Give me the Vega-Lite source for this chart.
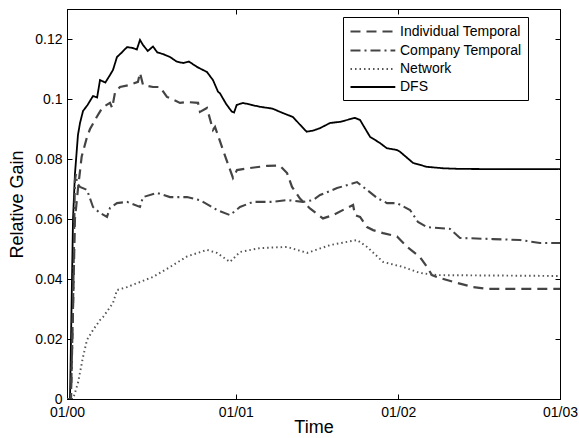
{
  "$schema": "https://vega.github.io/schema/vega-lite/v6.json",
  "autosize": "none",
  "width": 493,
  "height": 390,
  "padding": {"left": 67, "top": 9, "right": 19, "bottom": 39},
  "config": {
    "font": "Liberation Sans",
    "view": {"stroke": "black", "strokeWidth": 1},
    "axis": {"grid": false, "domainColor": "black", "tickColor": "black", "labelColor": "black", "titleColor": "black", "labelFont": "Liberation Sans", "titleFont": "Liberation Sans", "labelFontSize": 14, "titleFontSize": 18, "titleFontWeight": "normal", "tickSize": -5, "domainWidth": 1, "tickWidth": 1}
  },
  "datasets": {
    "gain": [
      {"t": 0, "gain": 0, "method": "DFS"},
      {"t": 0.22, "gain": 0, "method": "DFS"},
      {"t": 0.34, "gain": 0.033, "method": "DFS"},
      {"t": 0.44, "gain": 0.06, "method": "DFS"},
      {"t": 0.58, "gain": 0.075, "method": "DFS"},
      {"t": 0.8, "gain": 0.088, "method": "DFS"},
      {"t": 0.95, "gain": 0.092, "method": "DFS"},
      {"t": 1.17, "gain": 0.096, "method": "DFS"},
      {"t": 1.5, "gain": 0.098, "method": "DFS"},
      {"t": 1.9, "gain": 0.101, "method": "DFS"},
      {"t": 2.2, "gain": 0.1005, "method": "DFS"},
      {"t": 2.41, "gain": 0.1063, "method": "DFS"},
      {"t": 2.8, "gain": 0.1055, "method": "DFS"},
      {"t": 3.14, "gain": 0.108, "method": "DFS"},
      {"t": 3.36, "gain": 0.1097, "method": "DFS"},
      {"t": 3.65, "gain": 0.114, "method": "DFS"},
      {"t": 4.0, "gain": 0.1155, "method": "DFS"},
      {"t": 4.38, "gain": 0.1173, "method": "DFS"},
      {"t": 4.8, "gain": 0.117, "method": "DFS"},
      {"t": 5.1, "gain": 0.1165, "method": "DFS"},
      {"t": 5.33, "gain": 0.1197, "method": "DFS"},
      {"t": 5.55, "gain": 0.118, "method": "DFS"},
      {"t": 5.9, "gain": 0.116, "method": "DFS"},
      {"t": 6.28, "gain": 0.1175, "method": "DFS"},
      {"t": 6.6, "gain": 0.1155, "method": "DFS"},
      {"t": 7.0, "gain": 0.115, "method": "DFS"},
      {"t": 7.52, "gain": 0.114, "method": "DFS"},
      {"t": 8.0, "gain": 0.1125, "method": "DFS"},
      {"t": 8.47, "gain": 0.112, "method": "DFS"},
      {"t": 8.9, "gain": 0.1125, "method": "DFS"},
      {"t": 9.49, "gain": 0.1107, "method": "DFS"},
      {"t": 10.22, "gain": 0.109, "method": "DFS"},
      {"t": 10.66, "gain": 0.1063, "method": "DFS"},
      {"t": 11.03, "gain": 0.1024, "method": "DFS"},
      {"t": 11.17, "gain": 0.1019, "method": "DFS"},
      {"t": 11.6, "gain": 0.0985, "method": "DFS"},
      {"t": 12.03, "gain": 0.0958, "method": "DFS"},
      {"t": 12.2, "gain": 0.0955, "method": "DFS"},
      {"t": 12.39, "gain": 0.098, "method": "DFS"},
      {"t": 12.85, "gain": 0.0987, "method": "DFS"},
      {"t": 13.5, "gain": 0.098, "method": "DFS"},
      {"t": 14.09, "gain": 0.0974, "method": "DFS"},
      {"t": 15.0, "gain": 0.0968, "method": "DFS"},
      {"t": 15.77, "gain": 0.0953, "method": "DFS"},
      {"t": 16.5, "gain": 0.094, "method": "DFS"},
      {"t": 17.0, "gain": 0.0915, "method": "DFS"},
      {"t": 17.5, "gain": 0.0891, "method": "DFS"},
      {"t": 18.0, "gain": 0.0895, "method": "DFS"},
      {"t": 18.48, "gain": 0.0903, "method": "DFS"},
      {"t": 19.21, "gain": 0.092, "method": "DFS"},
      {"t": 19.94, "gain": 0.0924, "method": "DFS"},
      {"t": 21.03, "gain": 0.0937, "method": "DFS"},
      {"t": 21.4, "gain": 0.093, "method": "DFS"},
      {"t": 21.62, "gain": 0.0913, "method": "DFS"},
      {"t": 22.13, "gain": 0.0874, "method": "DFS"},
      {"t": 22.86, "gain": 0.0853, "method": "DFS"},
      {"t": 23.35, "gain": 0.0836, "method": "DFS"},
      {"t": 24.1, "gain": 0.083, "method": "DFS"},
      {"t": 24.32, "gain": 0.0824, "method": "DFS"},
      {"t": 25.27, "gain": 0.0787, "method": "DFS"},
      {"t": 26.27, "gain": 0.0774, "method": "DFS"},
      {"t": 27.5, "gain": 0.0769, "method": "DFS"},
      {"t": 28.7, "gain": 0.0767, "method": "DFS"},
      {"t": 32, "gain": 0.0766, "method": "DFS"},
      {"t": 36, "gain": 0.0766, "method": "DFS"},

      {"t": 0, "gain": 0, "method": "Individual Temporal"},
      {"t": 0.29, "gain": 0, "method": "Individual Temporal"},
      {"t": 0.44, "gain": 0.03, "method": "Individual Temporal"},
      {"t": 0.58, "gain": 0.06, "method": "Individual Temporal"},
      {"t": 0.8, "gain": 0.07, "method": "Individual Temporal"},
      {"t": 1.07, "gain": 0.0808, "method": "Individual Temporal"},
      {"t": 1.46, "gain": 0.0873, "method": "Individual Temporal"},
      {"t": 1.68, "gain": 0.09, "method": "Individual Temporal"},
      {"t": 2.17, "gain": 0.094, "method": "Individual Temporal"},
      {"t": 2.5, "gain": 0.0965, "method": "Individual Temporal"},
      {"t": 2.63, "gain": 0.0973, "method": "Individual Temporal"},
      {"t": 3.14, "gain": 0.0987, "method": "Individual Temporal"},
      {"t": 3.3, "gain": 0.097, "method": "Individual Temporal"},
      {"t": 3.51, "gain": 0.1023, "method": "Individual Temporal"},
      {"t": 3.87, "gain": 0.104, "method": "Individual Temporal"},
      {"t": 4.6, "gain": 0.1047, "method": "Individual Temporal"},
      {"t": 5.18, "gain": 0.1057, "method": "Individual Temporal"},
      {"t": 5.33, "gain": 0.1087, "method": "Individual Temporal"},
      {"t": 5.55, "gain": 0.1047, "method": "Individual Temporal"},
      {"t": 6.28, "gain": 0.104, "method": "Individual Temporal"},
      {"t": 6.79, "gain": 0.104, "method": "Individual Temporal"},
      {"t": 7.3, "gain": 0.1007, "method": "Individual Temporal"},
      {"t": 8.25, "gain": 0.0987, "method": "Individual Temporal"},
      {"t": 8.76, "gain": 0.099, "method": "Individual Temporal"},
      {"t": 9.57, "gain": 0.0987, "method": "Individual Temporal"},
      {"t": 9.71, "gain": 0.0957, "method": "Individual Temporal"},
      {"t": 10.22, "gain": 0.097, "method": "Individual Temporal"},
      {"t": 10.66, "gain": 0.0897, "method": "Individual Temporal"},
      {"t": 10.81, "gain": 0.0907, "method": "Individual Temporal"},
      {"t": 11.39, "gain": 0.083, "method": "Individual Temporal"},
      {"t": 12.12, "gain": 0.0737, "method": "Individual Temporal"},
      {"t": 12.41, "gain": 0.0763, "method": "Individual Temporal"},
      {"t": 13.36, "gain": 0.077, "method": "Individual Temporal"},
      {"t": 14.6, "gain": 0.0777, "method": "Individual Temporal"},
      {"t": 15.55, "gain": 0.0778, "method": "Individual Temporal"},
      {"t": 16.07, "gain": 0.0753, "method": "Individual Temporal"},
      {"t": 16.43, "gain": 0.0707, "method": "Individual Temporal"},
      {"t": 17.01, "gain": 0.0668, "method": "Individual Temporal"},
      {"t": 17.74, "gain": 0.0635, "method": "Individual Temporal"},
      {"t": 18.69, "gain": 0.0602, "method": "Individual Temporal"},
      {"t": 19.42, "gain": 0.0613, "method": "Individual Temporal"},
      {"t": 20.45, "gain": 0.0637, "method": "Individual Temporal"},
      {"t": 20.89, "gain": 0.0647, "method": "Individual Temporal"},
      {"t": 21.03, "gain": 0.0613, "method": "Individual Temporal"},
      {"t": 21.4, "gain": 0.0607, "method": "Individual Temporal"},
      {"t": 21.91, "gain": 0.0573, "method": "Individual Temporal"},
      {"t": 22.35, "gain": 0.0563, "method": "Individual Temporal"},
      {"t": 23.08, "gain": 0.0553, "method": "Individual Temporal"},
      {"t": 24.1, "gain": 0.0542, "method": "Individual Temporal"},
      {"t": 24.83, "gain": 0.0507, "method": "Individual Temporal"},
      {"t": 25.78, "gain": 0.0473, "method": "Individual Temporal"},
      {"t": 26.29, "gain": 0.044, "method": "Individual Temporal"},
      {"t": 26.65, "gain": 0.0413, "method": "Individual Temporal"},
      {"t": 27.24, "gain": 0.0403, "method": "Individual Temporal"},
      {"t": 28.48, "gain": 0.0387, "method": "Individual Temporal"},
      {"t": 29.65, "gain": 0.0373, "method": "Individual Temporal"},
      {"t": 30.67, "gain": 0.0367, "method": "Individual Temporal"},
      {"t": 36, "gain": 0.0367, "method": "Individual Temporal"},

      {"t": 0, "gain": 0, "method": "Company Temporal"},
      {"t": 0.29, "gain": 0, "method": "Company Temporal"},
      {"t": 0.44, "gain": 0.03, "method": "Company Temporal"},
      {"t": 0.58, "gain": 0.073, "method": "Company Temporal"},
      {"t": 0.66, "gain": 0.075, "method": "Company Temporal"},
      {"t": 0.73, "gain": 0.072, "method": "Company Temporal"},
      {"t": 0.95, "gain": 0.0707, "method": "Company Temporal"},
      {"t": 1.46, "gain": 0.0697, "method": "Company Temporal"},
      {"t": 1.9, "gain": 0.064, "method": "Company Temporal"},
      {"t": 2.41, "gain": 0.062, "method": "Company Temporal"},
      {"t": 2.92, "gain": 0.0607, "method": "Company Temporal"},
      {"t": 3.14, "gain": 0.0637, "method": "Company Temporal"},
      {"t": 3.65, "gain": 0.0653, "method": "Company Temporal"},
      {"t": 4.38, "gain": 0.0657, "method": "Company Temporal"},
      {"t": 5.33, "gain": 0.064, "method": "Company Temporal"},
      {"t": 5.55, "gain": 0.0673, "method": "Company Temporal"},
      {"t": 6.57, "gain": 0.0687, "method": "Company Temporal"},
      {"t": 7.52, "gain": 0.0673, "method": "Company Temporal"},
      {"t": 8.76, "gain": 0.0673, "method": "Company Temporal"},
      {"t": 9.71, "gain": 0.0663, "method": "Company Temporal"},
      {"t": 10.95, "gain": 0.063, "method": "Company Temporal"},
      {"t": 11.9, "gain": 0.0613, "method": "Company Temporal"},
      {"t": 12.63, "gain": 0.064, "method": "Company Temporal"},
      {"t": 13.58, "gain": 0.0657, "method": "Company Temporal"},
      {"t": 15.04, "gain": 0.0657, "method": "Company Temporal"},
      {"t": 16.07, "gain": 0.0663, "method": "Company Temporal"},
      {"t": 17.23, "gain": 0.0657, "method": "Company Temporal"},
      {"t": 17.96, "gain": 0.0663, "method": "Company Temporal"},
      {"t": 18.48, "gain": 0.068, "method": "Company Temporal"},
      {"t": 19.72, "gain": 0.0703, "method": "Company Temporal"},
      {"t": 21.18, "gain": 0.0723, "method": "Company Temporal"},
      {"t": 21.62, "gain": 0.0707, "method": "Company Temporal"},
      {"t": 21.91, "gain": 0.0697, "method": "Company Temporal"},
      {"t": 22.64, "gain": 0.067, "method": "Company Temporal"},
      {"t": 23.37, "gain": 0.0653, "method": "Company Temporal"},
      {"t": 24.1, "gain": 0.0653, "method": "Company Temporal"},
      {"t": 25.05, "gain": 0.063, "method": "Company Temporal"},
      {"t": 25.63, "gain": 0.059, "method": "Company Temporal"},
      {"t": 26.29, "gain": 0.0573, "method": "Company Temporal"},
      {"t": 27.97, "gain": 0.0567, "method": "Company Temporal"},
      {"t": 28.7, "gain": 0.0537, "method": "Company Temporal"},
      {"t": 31.11, "gain": 0.0533, "method": "Company Temporal"},
      {"t": 33.08, "gain": 0.053, "method": "Company Temporal"},
      {"t": 34.54, "gain": 0.052, "method": "Company Temporal"},
      {"t": 36, "gain": 0.052, "method": "Company Temporal"},

      {"t": 0, "gain": 0, "method": "Network"},
      {"t": 0.44, "gain": 0, "method": "Network"},
      {"t": 0.8, "gain": 0.0053, "method": "Network"},
      {"t": 1.17, "gain": 0.014, "method": "Network"},
      {"t": 1.46, "gain": 0.0197, "method": "Network"},
      {"t": 1.9, "gain": 0.023, "method": "Network"},
      {"t": 2.41, "gain": 0.0263, "method": "Network"},
      {"t": 2.63, "gain": 0.0273, "method": "Network"},
      {"t": 3.36, "gain": 0.032, "method": "Network"},
      {"t": 3.65, "gain": 0.0363, "method": "Network"},
      {"t": 4.38, "gain": 0.0373, "method": "Network"},
      {"t": 5.33, "gain": 0.039, "method": "Network"},
      {"t": 6.28, "gain": 0.0407, "method": "Network"},
      {"t": 7.52, "gain": 0.044, "method": "Network"},
      {"t": 8.76, "gain": 0.0475, "method": "Network"},
      {"t": 10.22, "gain": 0.0497, "method": "Network"},
      {"t": 10.95, "gain": 0.0487, "method": "Network"},
      {"t": 11.9, "gain": 0.0457, "method": "Network"},
      {"t": 12.63, "gain": 0.049, "method": "Network"},
      {"t": 14.09, "gain": 0.0503, "method": "Network"},
      {"t": 16.07, "gain": 0.0507, "method": "Network"},
      {"t": 17.53, "gain": 0.0487, "method": "Network"},
      {"t": 19.21, "gain": 0.0513, "method": "Network"},
      {"t": 21.18, "gain": 0.053, "method": "Network"},
      {"t": 21.91, "gain": 0.0507, "method": "Network"},
      {"t": 23.08, "gain": 0.0457, "method": "Network"},
      {"t": 24.54, "gain": 0.044, "method": "Network"},
      {"t": 25.78, "gain": 0.042, "method": "Network"},
      {"t": 27.02, "gain": 0.0413, "method": "Network"},
      {"t": 36, "gain": 0.041, "method": "Network"}
    ]
  },
  "data": {"name": "gain"},
  "layer": [
    {
      "mark": {"type": "line", "clip": true},
      "encoding": {
        "x": {"field": "t", "type": "quantitative", "scale": {"domain": [0, 36], "nice": false, "zero": false},
              "axis": {"orient": "bottom", "values": [0, 12.32, 24.19, 36], "labelExpr": "datum.value == 0 ? '01/00' : datum.value < 13 ? '01/01' : datum.value < 25 ? '01/02' : '01/03'", "title": "Time", "labelPadding": 11, "titlePadding": -1, "labelFlush": false}},
        "y": {"field": "gain", "type": "quantitative", "scale": {"domain": [0, 0.13], "nice": false},
              "axis": {"orient": "left", "values": [0, 0.02, 0.04, 0.06, 0.08, 0.1, 0.12], "format": ".2~f", "title": "Relative Gain", "labelPadding": 10, "titlePadding": 8}},
        "color": {"field": "method", "type": "nominal",
                  "scale": {"domain": ["Individual Temporal", "Company Temporal", "Network", "DFS"], "range": ["#444444", "#444444", "#555555", "#000000"]},
                  "legend": {"orient": "none", "legendX": 276, "legendY": 8, "title": null, "strokeColor": "black", "fillColor": "white", "padding": 6, "symbolType": "M-1,0H5.4", "symbolSize": 196, "symbolStrokeWidth": 1.5, "labelFontSize": 14, "labelFont": "Liberation Sans", "labelColor": "black", "rowPadding": 3, "labelOffset": 34, "labelLimit": 300}},
        "strokeDash": {"field": "method", "type": "nominal",
                  "scale": {"domain": ["Individual Temporal", "Company Temporal", "Network", "DFS"], "range": [[10, 6], [10, 4, 2, 4], [1.5, 3], [1, 0]]},
                  "legend": {"orient": "none", "legendX": 276, "legendY": 8, "title": null, "strokeColor": "black", "fillColor": "white", "padding": 6, "symbolType": "M-1,0H5.4", "symbolSize": 196, "symbolStrokeWidth": 1.5, "labelFontSize": 14, "labelFont": "Liberation Sans", "labelColor": "black", "rowPadding": 3, "labelOffset": 34, "labelLimit": 300}},
        "strokeWidth": {"field": "method", "type": "nominal",
                  "scale": {"domain": ["Individual Temporal", "Company Temporal", "Network", "DFS"], "range": [2.2, 1.8, 1.3, 2]},
                  "legend": null},
        "order": {"field": "t", "type": "quantitative"}
      }
    },
    {
      "mark": {"type": "line", "opacity": 0},
      "encoding": {
        "x": {"field": "t", "type": "quantitative", "axis": {"orient": "top", "values": [0, 12.32, 24.19, 36], "labels": false, "title": null}},
        "y": {"field": "gain", "type": "quantitative", "axis": {"orient": "right", "values": [0, 0.02, 0.04, 0.06, 0.08, 0.1, 0.12], "labels": false, "title": null}},
        "detail": {"field": "method"}
      }
    }
  ],
  "resolve": {"axis": {"x": "independent", "y": "independent"}}
}
